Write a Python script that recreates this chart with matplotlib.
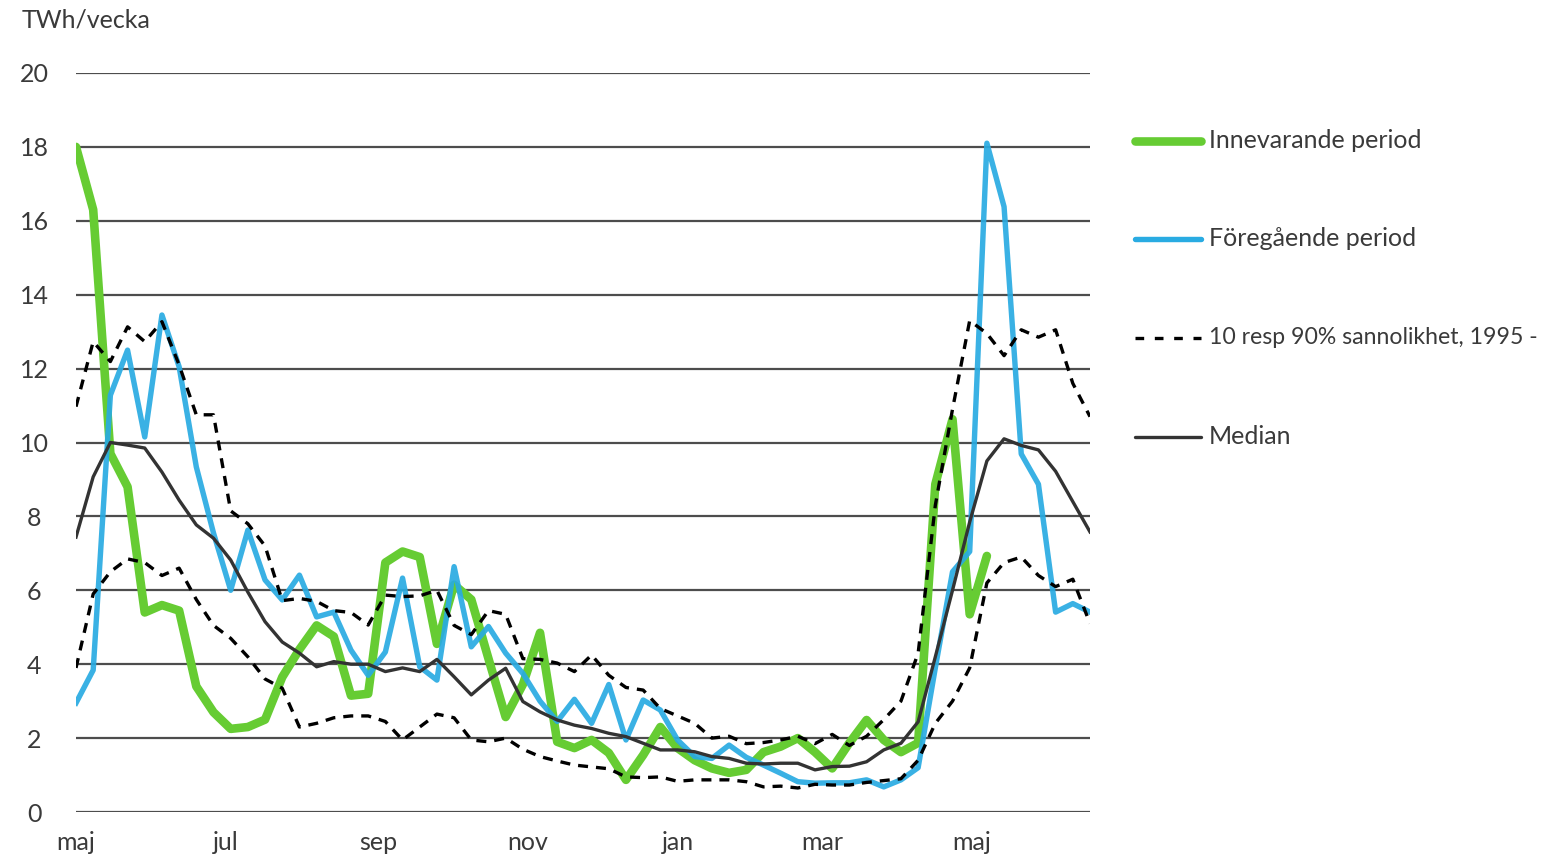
import matplotlib
matplotlib.use("Agg")
import matplotlib.pyplot as plt
from matplotlib.lines import Line2D
import numpy as np

# ---- data (TWh/vecka, weekly) ----
month_labels = ["maj", "jul", "sep", "nov", "jan", "mar", "maj"]
month_pos = [0, 8.73, 17.57, 26.3, 35.02, 43.4, 52.12]

current = [18.0, 16.3, 9.7, 8.8, 5.4, 5.6, 5.45, 3.4, 2.7, 2.25,
           2.3, 2.5, 3.65, 4.4, 5.05, 4.75, 3.15, 3.2, 6.75, 7.05,
           6.9, 4.55, 6.15, 5.75, 4.15, 2.57, 3.45, 4.85, 1.9, 1.73,
           1.95, 1.6, 0.87, 1.54, 2.3, 1.73, 1.4, 1.18, 1.06, 1.14,
           1.62, 1.77, 2.0, 1.62, 1.18, 1.87, 2.49, 1.95, 1.62, 1.87,
           8.87, 10.63, 5.35, 6.93]

previous = [2.95, 3.84, 11.28, 12.5, 10.15, 13.45, 12.05, 9.34, 7.55, 6.0,
            7.63, 6.28, 5.74, 6.41, 5.28, 5.41, 4.38, 3.7, 4.33, 6.33,
            3.93, 3.57, 6.64, 4.47, 5.02, 4.3, 3.75, 3.0, 2.45, 3.05,
            2.4, 3.45, 1.95, 3.03, 2.76, 1.95, 1.5, 1.45, 1.81, 1.48,
            1.27, 1.05, 0.82, 0.78, 0.79, 0.79, 0.87, 0.68, 0.87, 1.2,
            3.9, 6.5, 7.05, 18.1, 16.38, 9.69, 8.87, 5.41, 5.64, 5.41]

p90 = [10.97, 12.73, 12.19, 13.13, 12.73, 13.27, 12.1, 10.75, 10.75, 8.15,
       7.8, 7.2, 5.72, 5.78, 5.7, 5.45, 5.4, 5.06, 5.87, 5.83,
       5.85, 6.0, 5.05, 4.8, 5.45, 5.35, 4.15, 4.13, 4.03, 3.8,
       4.25, 3.7, 3.37, 3.3, 2.8, 2.6, 2.4, 2.0, 2.05, 1.85,
       1.88, 1.95, 2.05, 1.85, 2.1, 1.8, 2.05, 2.5, 3.0, 4.3,
       8.3, 10.9, 13.3, 12.95, 12.35, 13.05, 12.85, 13.05, 11.6, 10.7]

p10 = [3.9, 5.9, 6.5, 6.85, 6.75, 6.4, 6.6, 5.75, 5.05, 4.7,
       4.2, 3.6, 3.35, 2.3, 2.4, 2.55, 2.6, 2.6, 2.45, 1.95,
       2.3, 2.65, 2.55, 1.95, 1.9, 2.0, 1.7, 1.5, 1.38, 1.27,
       1.22, 1.17, 0.95, 0.93, 0.95, 0.83, 0.87, 0.87, 0.87, 0.82,
       0.68, 0.7, 0.65, 0.75, 0.73, 0.73, 0.8, 0.85, 0.9, 1.4,
       2.4, 3.0, 3.9, 6.2, 6.75, 6.9, 6.4, 6.1, 6.3, 5.1]

median = [7.44, 9.07, 10.0, 9.93, 9.85, 9.2, 8.44, 7.77, 7.41, 6.82,
          5.95, 5.15, 4.6, 4.3, 3.93, 4.07, 4.0, 4.0, 3.8, 3.9,
          3.8, 4.13, 3.66, 3.17, 3.57, 3.89, 2.99, 2.71, 2.49, 2.35,
          2.26, 2.13, 2.04, 1.86, 1.68, 1.68, 1.63, 1.5, 1.45, 1.32,
          1.3, 1.32, 1.32, 1.14, 1.23, 1.24, 1.36, 1.68, 1.86, 2.44,
          4.2, 6.0, 7.85, 9.5, 10.1, 9.92, 9.8, 9.22, 8.4, 7.58]

labels = ["Innevarande period", "Föregående period",
          "10 resp 90% sannolikhet, 1995 -", "Median"]

# ---- styling ----
FONT = ["Lato", "DejaVu Sans"]
plt.rcParams["font.family"] = FONT
TXT = "#3a3a3a"
GREEN = "#66CC33"
BLUE = "#29ABE2"
DARK = "#333333"
FS = 18

W, H = 1559, 858
fig = plt.figure(figsize=(W / 100, H / 100), dpi=100)
ax = fig.add_axes([76 / W, (H - 812) / H, 1014 / W, 739 / H])

n_all = len(previous)
x_all = np.arange(n_all)
x_cur = np.arange(len(current))

ax.plot(x_cur, current, color=GREEN, lw=6.2, solid_joinstyle="round",
        solid_capstyle="round", zorder=3)
ax.plot(x_all, previous, color=BLUE, lw=3.9, alpha=0.92,
        solid_joinstyle="round", zorder=4)
dash = (3.0, 2.4)
ax.plot(x_all, p90, color="black", lw=2.4, linestyle=(0, dash), zorder=5)
ax.plot(x_all, p10, color="black", lw=2.4, linestyle=(0, dash), zorder=5)
ax.plot(x_all, median, color=DARK, lw=2.4, zorder=6)

ax.set_xlim(0, n_all - 1)
ax.set_ylim(0, 20)
ax.set_yticks(np.arange(0, 21, 2))
ax.yaxis.grid(True, color="#4d4d4d", lw=1.6, zorder=1)
ax.set_axisbelow(True)
for s in ax.spines.values():
    s.set_visible(False)
ax.set_xticks(month_pos)
ax.set_xticklabels(month_labels)
ax.tick_params(axis="both", length=0, labelsize=FS, colors=TXT)
ax.tick_params(axis="y", pad=30)
ax.tick_params(axis="x", pad=14)
for t in ax.get_yticklabels():
    t.set_horizontalalignment("center")

fig.text(22 / W, 1 - 20 / H, "TWh/vecka", fontsize=FS, color=TXT,
         ha="left", va="center")

# ---- legend (manual) ----
leg_y = [141, 239, 338, 437]
leg_fs = [FS, FS, 16.6, FS]
styles = [dict(color=GREEN, lw=6.2, solid_capstyle="round"),
          dict(color=BLUE, lw=3.9, solid_capstyle="round"),
          dict(color="black", lw=2.4, linestyle=(0, (2.6, 3.2))),
          dict(color=DARK, lw=2.4, solid_capstyle="round")]
for yy, lab, st, fs in zip(leg_y, labels, styles, leg_fs):
    fy = 1 - yy / H
    fig.add_artist(Line2D([1135 / W, 1201 / W], [fy, fy],
                          transform=fig.transFigure, **st))
    fig.text(1209 / W, fy, lab, fontsize=fs, color=TXT,
             ha="left", va="center")

fig.savefig("out.png", dpi=100)
